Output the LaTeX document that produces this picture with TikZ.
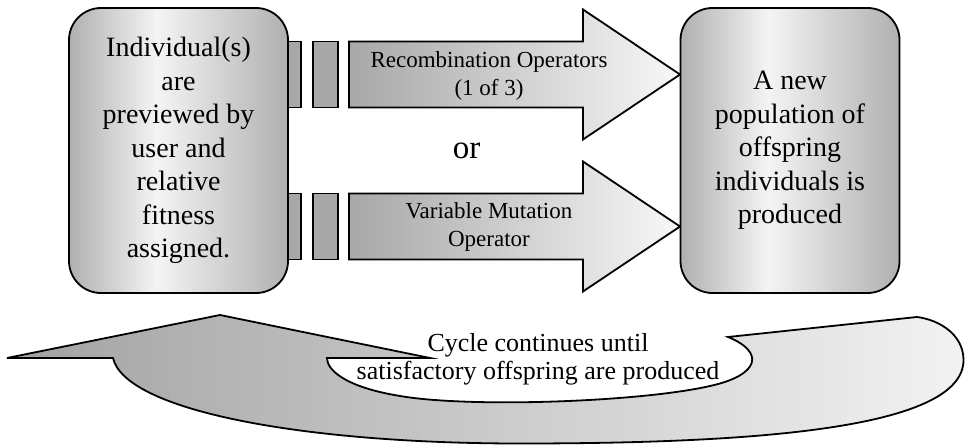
\documentclass[tikz,border=0pt]{standalone}
\usepackage{fontspec}
\setmainfont{Liberation Serif}
\usepackage{tikz}
\usetikzlibrary{positioning}
\definecolor{stagegray}{HTML}{B0B0B0}
\definecolor{stagelight}{HTML}{F4F4F4}
\definecolor{blockgray}{HTML}{A8A8A8}
\definecolor{loopgray}{HTML}{A2A2A2}
\definecolor{looplight}{HTML}{F2F2F2}
\pgfdeclarehorizontalshading{stageshade}{100bp}{color(0bp)=(stagegray); color(25bp)=(stagegray); color(45bp)=(stagelight); color(75bp)=(stagegray); color(100bp)=(stagegray)}
\def\headx{583}
\def\tipx{680}

\begin{document}
\begin{tikzpicture}[x=1pt,y=-1pt,line width=1.8pt]
      \tikzstyle{stage}=[draw=black, rounded corners=32pt, minimum width=219pt, minimum height=285pt, inner sep=0pt, align=center, shade, shading=stageshade, font={\fontsize{28}{33.5}\selectfont}]
      \tikzstyle{block}=[draw=black, fill=blockgray]
      \tikzstyle{operator}=[draw=black, left color=blockgray, right color=white!97!black]
      \tikzstyle{oplabel}=[align=center, font={\fontsize{23}{28}\selectfont}]
      \tikzstyle{loop arrow}=[draw=black, left color=loopgray, right color=looplight]
      \tikzstyle{annot}=[align=center, font={\fontsize{26}{28}\selectfont}]

      \useasboundingbox (0,0) rectangle (965,446);

      % Draw the two operator arrows with their small blocks
      \foreach \c in {74.5,226.5}
      {
          \foreach \x in {276,313}
              \draw[block] (\x,{\c-33}) rectangle ++(25,66);
          \draw[operator] (349,{\c-33}) -- (\headx,{\c-33}) -- (\headx,{\c-65})
              -- (\tipx,\c) -- (\headx,{\c+65}) -- (\headx,{\c+33}) -- (349,{\c+33}) -- cycle;
      }

      % Draw the two stages
      \node[stage] (preview) at (178.5,150.5) {Individual(s)\\are\\previewed by\\user and\\relative\\fitness\\assigned.};
      \node[stage] (offspring) at (790,150.5) {A new\\population of\\offspring\\individuals is\\produced};

      % Label the operators
      \node[oplabel] (recomb) at (489,75.5) {Recombination Operators\\(1 of 3)};
      \node[oplabel] (mutate) at (489,227) {Variable Mutation\\Operator};
      \node[font={\fontsize{33}{36}\selectfont}] (or) at (466.5,151) {or};

      % Draw the curved arrow back to the first stage
      \draw[loop arrow] (7,358) -- (220,315) -- (430,358) -- (327,358)
          .. controls (327,370) and (345,387) .. (400,396)
          .. controls (470,408) and (640,402) .. (710,386)
          .. controls (760,375) and (765,352) .. (728,337)
          -- (917,317)
          .. controls (940,320) and (963.5,335) .. (963.5,360)
          .. controls (963.5,428) and (760,443.5) .. (520,443.5)
          .. controls (300,443.5) and (125,410) .. (113,358) -- cycle;

      % Annotate the cycle
      \node[annot] (cycle) at (538,359) {Cycle continues until\\satisfactory offspring are produced};
  \end{tikzpicture}
\end{document}
